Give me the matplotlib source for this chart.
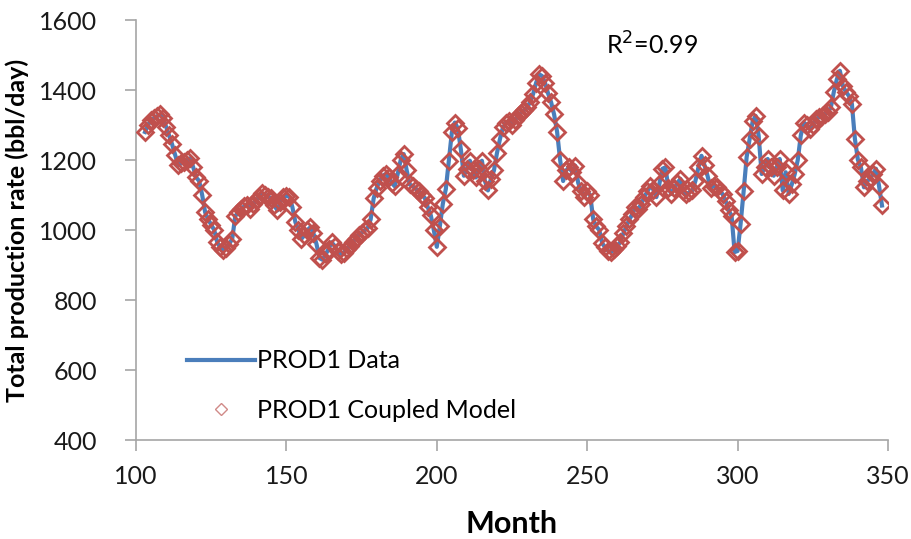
import matplotlib
matplotlib.use("Agg")
import matplotlib.pyplot as plt

months = list(range(103, 349))
prod1_data = [
    1280, 1300, 1315, 1320, 1325, 1330, 1320, 1295, 1270, 1245,   # 103-112
    1215, 1185, 1190, 1195, 1200, 1205, 1180, 1150, 1140, 1100,   # 113-122
    1050, 1030, 1015, 1000, 965, 950, 942, 948, 960, 975,         # 123-132
    1040, 1050, 1060, 1068, 1072, 1060, 1075, 1085, 1095, 1105,   # 133-142
    1100, 1095, 1090, 1070, 1056, 1080, 1095, 1098, 1095, 1065,   # 143-152
    1022, 1000, 975, 985, 1000, 1008, 990, 960, 920, 915,         # 153-162
    930, 945, 965, 955, 940, 932, 935, 945, 955, 965,             # 163-172
    975, 985, 992, 999, 1005, 1030, 1090, 1120, 1140, 1155,       # 173-182
    1160, 1150, 1135, 1125, 1160, 1200, 1217, 1170, 1130, 1125,   # 183-192
    1118, 1110, 1100, 1092, 1065, 1042, 1000, 952, 1010, 1075,    # 193-202
    1117, 1198, 1279, 1307, 1290, 1230, 1155, 1175, 1198, 1170,   # 203-212
    1150, 1175, 1198, 1140, 1113, 1146, 1170, 1220, 1260, 1293,   # 213-222
    1305, 1310, 1300, 1315, 1325, 1335, 1342, 1350, 1365, 1388,   # 223-232
    1420, 1445, 1440, 1420, 1390, 1365, 1330, 1280, 1200, 1140,   # 233-242
    1170, 1180, 1165, 1184, 1135, 1110, 1095, 1110, 1100, 1030,   # 243-252
    1010, 1000, 962, 950, 940, 937, 945, 955, 965, 990,           # 253-262
    1010, 1030, 1045, 1065, 1060, 1074, 1095, 1110, 1127, 1115,   # 263-272
    1094, 1132, 1175, 1179, 1120, 1103, 1120, 1135, 1146, 1110,   # 273-282
    1103, 1108, 1113, 1141, 1180, 1212, 1185, 1155, 1120, 1125,   # 283-292
    1122, 1110, 1103, 1084, 1056, 1041, 937, 940, 1018, 1110,     # 293-302
    1208, 1260, 1310, 1326, 1269, 1160, 1180, 1203, 1180, 1155,   # 303-312
    1180, 1203, 1113, 1165, 1103, 1130, 1160, 1200, 1270, 1307,   # 313-322
    1300, 1288, 1300, 1317, 1322, 1325, 1331, 1338, 1350, 1395,   # 323-332
    1431, 1455, 1412, 1395, 1383, 1360, 1260, 1200, 1179, 1122,   # 333-342
    1140, 1146, 1160, 1175, 1127, 1070,                           # 343-348
]
prod1_model = list(prod1_data)

x_ticks = [100, 150, 200, 250, 300, 350]
y_ticks = [400, 600, 800, 1000, 1200, 1400, 1600]

plt.rcParams['font.family'] = ['Lato', 'DejaVu Sans']

fig = plt.figure(figsize=(9.11, 5.39), dpi=100)
ax = fig.add_axes([136/911, 1-440/539, (888-136)/911, (440-20)/539])

ax.plot(months, prod1_data, color='#4A7EBB', lw=3, label='PROD1 Data', zorder=2)
ax.plot(months, prod1_model, ls='none', marker='D', ms=8, mfc='none',
        mec='#C0504D', mew=2.0, label='PROD1 Coupled Model', zorder=3)

ax.set_xlim(100, 350)
ax.set_ylim(400, 1600)
ax.set_xticks(x_ticks)
ax.set_yticks(y_ticks)
for s in ['top', 'right']:
    ax.spines[s].set_visible(False)
for s in ['left', 'bottom']:
    ax.spines[s].set_color('#A6A6A6')
    ax.spines[s].set_linewidth(1.2)
ax.tick_params(axis='both', colors='#A6A6A6', length=8, width=1.2, labelsize=18,
               labelcolor='#1a1a1a')
ax.tick_params(axis='x', pad=10)
ax.tick_params(axis='y', pad=20)

ax.set_xlabel('Month', fontsize=22, fontweight='bold', labelpad=16)
ax.set_ylabel('Total production rate (bbl/day)', fontsize=18, fontweight='bold')
ax.yaxis.set_label_coords(-0.142, 0.5)

ax.text(0.686, 0.94, 'R$^2$=0.99', transform=ax.transAxes, fontsize=18,
        ha='center', va='center')

leg = ax.legend(loc='lower left', bbox_to_anchor=(0.055, 0.02), frameon=False,
                fontsize=18, handlelength=2.7, handletextpad=0.1, labelspacing=1.05,
                borderaxespad=0, markerscale=0.8)
for h in leg.legend_handles:
    if h.get_marker() == 'D':
        h.set_markeredgewidth(1.0)
        h.set_markeredgecolor('#D08A88')

fig.savefig('out.png', dpi=100)
